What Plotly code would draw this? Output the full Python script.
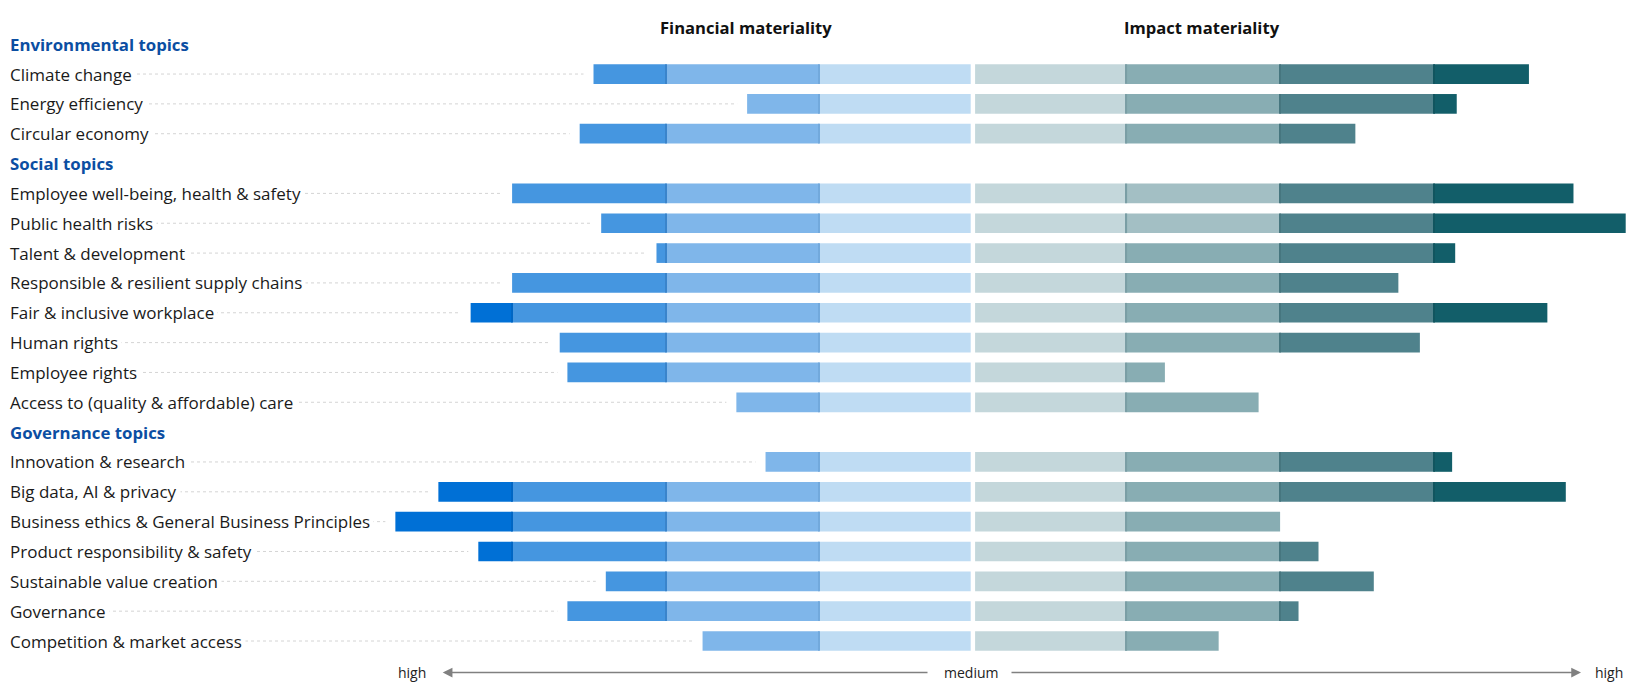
import plotly.graph_objects as go

# Rows (headers have no values)
rows = [
    "Environmental topics",
    "Climate change", "Energy efficiency", "Circular economy",
    "Social topics",
    "Employee well-being, health & safety", "Public health risks", "Talent & development",
    "Responsible & resilient supply chains", "Fair & inclusive workplace", "Human rights",
    "Employee rights", "Access to (quality & affordable) care",
    "Governance topics",
    "Innovation & research", "Big data, AI & privacy",
    "Business ethics & General Business Principles", "Product responsibility & safety",
    "Sustainable value creation", "Governance", "Competition & market access",
]
headers = ["Environmental topics", "Social topics", "Governance topics"]

# materiality scores (0 = medium, 4+ = high)
financial = [None, 2.47, 1.47, 2.56,
             None, 3.0, 2.42, 2.06, 3.0, 3.27, 2.69, 2.64, 1.54,
             None, 1.35, 3.48, 3.76, 3.22, 2.39, 2.64, 1.76]
impact = [None, 3.62, 3.15, 2.49,
          None, 3.91, 4.25, 3.14, 2.77, 3.74, 2.91, 1.25, 1.86,
          None, 3.12, 3.86, 2.0, 2.25, 2.61, 2.12, 1.60]
# rows where the 2nd impact band is drawn lighter
impact_light = ["Employee well-being, health & safety", "Public health risks"]

fin_colors = ["#bfdcf3", "#7fb6ea", "#4596e0", "#0070d6"]
imp_colors = ["#c4d7db", "#88adb3", "#4f828c", "#125e69"]
imp_light2 = "#a3bfc4"
# thin edge lines where one band meets the next
fin_edges = ["#72a9dc", "#3a84cb", "#0066c4"]
imp_edges = ["#7a9ea5", "#46767f", "#11555f"]

OFF = 8                      # page body margin
W, H = 1646 - OFF, 695 - OFF
CX, UNIT = 972.9 - OFF, 153.6
GAP = 2.2 / UNIT
x_range = [-CX / UNIT, (W - CX) / UNIT]
ROW0, PITCH = 44.2 - OFF, 29.84
y_range = [(H - ROW0) / PITCH, -ROW0 / PITCH]
BAR_W = 0.66
EDGE = 1.2 / UNIT


def px_x(p):
    return (p - OFF - CX) / UNIT


def px_y(p):
    return (p - OFF - ROW0) / PITCH


fig = go.Figure()


def segments(vals, k):
    lo = GAP if k == 1 else k - 1
    lens, starts = [], []
    for v in vals:
        if v is None or v <= k - 1:
            lens.append(None)
            starts.append(None)
        else:
            hi = v if k == 4 else min(v, k)
            lens.append(hi - lo)
            starts.append(lo)
    return lens, starts


for k in range(1, 5):
    lens, starts = segments(financial, k)
    fig.add_trace(go.Bar(
        y=rows, x=lens, base=[-(s + l) if l is not None else None for s, l in zip(starts, lens)],
        orientation="h", width=BAR_W, marker=dict(color=fin_colors[k - 1], line_width=0),
        showlegend=False, hoverinfo="skip"))
    lens, starts = segments(impact, k)
    cols = [imp_light2 if (k == 2 and r in impact_light) else imp_colors[k - 1] for r in rows]
    fig.add_trace(go.Bar(
        y=rows, x=lens, base=starts,
        orientation="h", width=BAR_W, marker=dict(color=cols, line_width=0),
        showlegend=False, hoverinfo="skip"))

# band edges
for k in range(1, 4):
    fx = [EDGE if (v is not None and v > k + 0.02) else None for v in financial]
    fig.add_trace(go.Bar(y=rows, x=fx, base=-k - EDGE / 2, orientation="h", width=BAR_W,
                         marker=dict(color=fin_edges[k - 1], line_width=0),
                         showlegend=False, hoverinfo="skip"))
    ix = [EDGE if (v is not None and v > k + 0.02) else None for v in impact]
    fig.add_trace(go.Bar(y=rows, x=ix, base=k - EDGE / 2, orientation="h", width=BAR_W,
                         marker=dict(color=imp_edges[k - 1], line_width=0),
                         showlegend=False, hoverinfo="skip"))

# dotted leader lines
label_px = -2.5 / W
label_x = x_range[0] + 3 / UNIT
for i, (r, v) in enumerate(zip(rows, financial)):
    if v is None:
        continue
    fig.add_shape(type="line", xref="x", yref="y", x0=label_x, x1=-v - 10 / UNIT,
                  y0=i, y1=i, line=dict(color="#d4d4d4", width=1, dash="dot"), layer="below")

ann = []
for r in rows:
    if r in headers:
        ann.append(dict(x=label_px, xref="paper", y=r, yref="y", text="<b>" + r + "</b>",
                        xanchor="left", showarrow=False, bgcolor="white", borderpad=3,
                        font=dict(size=16.8, color="#0b4ea2")))
    else:
        ann.append(dict(x=label_px, xref="paper", y=r, yref="y", text=r,
                        xanchor="left", showarrow=False, bgcolor="white", borderpad=3,
                        font=dict(size=17, color="#1a1a1a")))

# column titles
ann.append(dict(x=-1.48, y=px_y(27), xref="x", yref="y", text="<b>Financial materiality</b>",
                showarrow=False, font=dict(size=16.6, color="#111")))
ann.append(dict(x=1.49, y=px_y(27), xref="x", yref="y", text="<b>Impact materiality</b>",
                showarrow=False, font=dict(size=16.6, color="#111")))

# bottom scale arrows
axis_y = px_y(672.5)
ann.append(dict(x=px_x(442.7), y=axis_y, ax=px_x(929), ay=axis_y,
                xref="x", yref="y", axref="x", ayref="y", text="", showarrow=True,
                arrowhead=2, arrowsize=1.3, arrowwidth=1.5, arrowcolor="#808080"))
ann.append(dict(x=px_x(1581), y=axis_y, ax=px_x(1010), ay=axis_y,
                xref="x", yref="y", axref="x", ayref="y", text="", showarrow=True,
                arrowhead=2, arrowsize=1.3, arrowwidth=1.5, arrowcolor="#808080"))
for txt, p in [("high", 412), ("medium", 971), ("high", 1609)]:
    ann.append(dict(x=px_x(p), y=axis_y, xref="x", yref="y", text=txt,
                    showarrow=False, font=dict(size=14, color="#222")))

fig.update_layout(
    width=W, height=H, barmode="overlay",
    margin=dict(l=0, r=0, t=0, b=0),
    paper_bgcolor="white", plot_bgcolor="white",
    font=dict(family="Open Sans", size=16),
    xaxis=dict(range=x_range, visible=False, fixedrange=True),
    yaxis=dict(range=y_range, type="category", categoryorder="array", categoryarray=rows,
               visible=False, fixedrange=True),
    annotations=ann,
)

fig.write_html("out.html")
